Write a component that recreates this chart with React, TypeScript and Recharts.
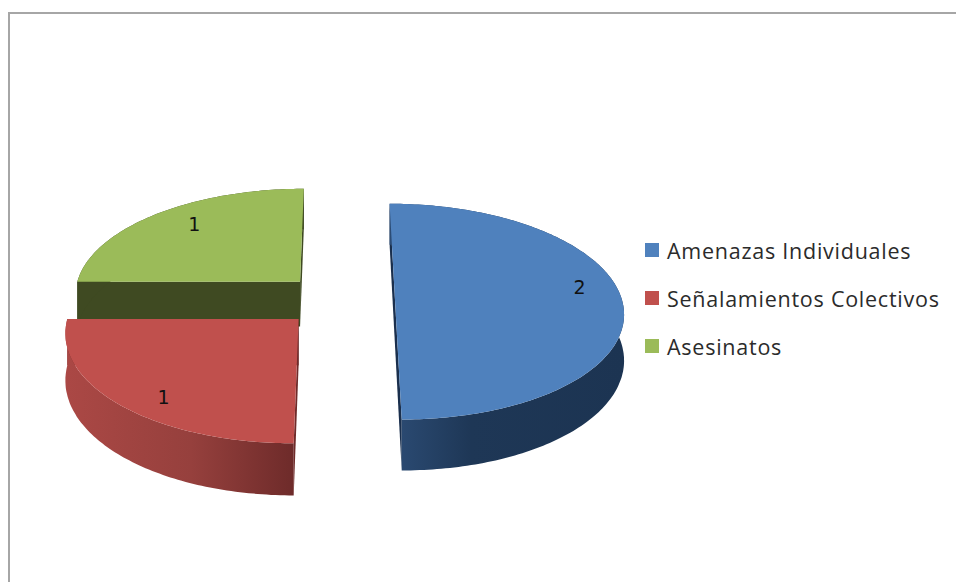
import { PieChart, Pie, Legend } from "recharts";

// ─── Data ─────────────────────────────────────────────────────────────────

// Painted back to front, so the legend reverses this order
const CATEGORIES = ["Asesinatos", "Señalamientos Colectivos", "Amenazas Individuales"];
const VALUES = [1, 1, 2];
const TOP_COLORS = ["#9bbb59", "#c0504d", "#4f81bd"];

const DATA = CATEGORIES.map((name, i) => ({ name, value: VALUES[i], fill: TOP_COLORS[i] }));

// ─── 3D projection ────────────────────────────────────────────────────────

const RADIUS = 227;
const EXPLODE = 56;
const THICKNESS = 45.5;
const VANISH_Y = -692; // horizon the disc recedes towards
const FORESHORTEN = 0.1075;

const WALL_FILL: Record<string, string> = {
  Asesinatos: "#3f4a22",
  "Señalamientos Colectivos": "url(#wallRed)",
  "Amenazas Individuales": "url(#wallBlue)",
};
const CUT_FILL: Record<string, string> = {
  Asesinatos: "#3f4a22",
  "Señalamientos Colectivos": "#6f2b2a",
  "Amenazas Individuales": "#1a2f4d",
};
const LABEL_NUDGE: Record<string, [number, number]> = {
  Asesinatos: [11, -3],
  "Señalamientos Colectivos": [7, 11],
  "Amenazas Individuales": [3, -13],
};

const RAD = Math.PI / 180;

function project(cx: number, cy: number, mid: number, angle: number, r: number, lift = 0) {
  const x = Math.cos(angle * RAD) * r + Math.cos(mid * RAD) * EXPLODE;
  const y = -Math.sin(angle * RAD) * r - Math.sin(mid * RAD) * EXPLODE;
  const s = 1 / (1 - (FORESHORTEN * y) / RADIUS);
  return { x: cx + x * s, y: VANISH_Y + (cy - VANISH_Y + lift) * s };
}

function toPath(points: { x: number; y: number }[]) {
  return points.map((p, i) => `${i ? "L" : "M"}${p.x.toFixed(1)} ${p.y.toFixed(1)}`).join(" ") + " Z";
}

// ─── Slice ────────────────────────────────────────────────────────────────

function Slice3D(props: any) {
  const { cx, cy, outerRadius, startAngle, endAngle, fill, name } = props;
  const from = Math.min(startAngle, endAngle);
  const to = Math.max(startAngle, endAngle);
  const mid = (from + to) / 2;

  const arc = (lift: number) => {
    const pts = [];
    for (let a = from; a <= to + 0.01; a += 1) pts.push(project(cx, cy, mid, a, outerRadius, lift));
    return pts;
  };
  const hub = project(cx, cy, mid, 0, 0);
  const hubLow = project(cx, cy, mid, 0, 0, THICKNESS);
  const top = arc(0);
  const low = arc(THICKNESS);
  const first = top[0];
  const last = top[top.length - 1];

  return (
    <g>
      <path d={toPath([hub, first, low[0], hubLow])} fill={CUT_FILL[name]} />
      <path d={toPath([hub, last, low[low.length - 1], hubLow])} fill={CUT_FILL[name]} />
      <path d={toPath([...top, ...[...low].reverse()])} fill={WALL_FILL[name]} />
      <path d={toPath([hub, ...top])} fill={fill} />
    </g>
  );
}

function SliceLabel(props: any) {
  const { cx, cy, midAngle, value, name } = props;
  const p = project(cx, cy, midAngle, midAngle, RADIUS * 0.8);
  const [dx, dy] = LABEL_NUDGE[name];
  return (
    <text
      x={p.x + dx}
      y={p.y + dy}
      textAnchor="middle"
      dominantBaseline="central"
      fontFamily="'DejaVu Sans', sans-serif"
      fontSize={19}
      fill="#111"
    >
      {value}
    </text>
  );
}

// ─── Legend ───────────────────────────────────────────────────────────────

function SideLegend({ payload }: any) {
  const items = [...(payload ?? [])].reverse();
  return (
    <div style={{ fontFamily: "'Open Sans', sans-serif", fontSize: 21.5, letterSpacing: 0.75, color: "#2b2b2b" }}>
      {items.map((item: any) => (
        <div key={item.value} style={{ display: "flex", alignItems: "center", height: 48, whiteSpace: "nowrap" }}>
          <span style={{ width: 14, height: 14, marginRight: 8, background: item.color }} />
          {item.value}
        </div>
      ))}
    </div>
  );
}

// ─── Chart ────────────────────────────────────────────────────────────────

export default function App() {
  return (
    <div style={{ position: "absolute", left: 0, top: 0, width: 956, height: 582, background: "#fff", overflow: "hidden" }}>
      <div style={{ position: "absolute", left: 8, top: 12, right: 0, bottom: 0, borderLeft: "2px solid #a6a6a6", borderTop: "2px solid #a6a6a6" }} />
      <PieChart width={956} height={582} margin={{ top: 0, right: 0, bottom: 0, left: 0 }}>
        <defs>
          <linearGradient id="wallRed" x1="0" y1="0" x2="1" y2="0">
            <stop offset="0%" stopColor="#ab4845" />
            <stop offset="55%" stopColor="#96403d" />
            <stop offset="100%" stopColor="#6e2b2a" />
          </linearGradient>
          <linearGradient id="wallBlue" x1="0" y1="0" x2="1" y2="0">
            <stop offset="0%" stopColor="#2c4c75" />
            <stop offset="35%" stopColor="#1e3756" />
            <stop offset="100%" stopColor="#1c3452" />
          </linearGradient>
        </defs>
        <Pie
          data={DATA}
          dataKey="value"
          nameKey="name"
          cx={339}
          cy={300}
          outerRadius={RADIUS}
          startAngle={90}
          endAngle={450}
          stroke="none"
          shape={Slice3D}
          label={SliceLabel}
          labelLine={false}
          isAnimationActive={false}
        />
        <Legend
          layout="vertical"
          align="right"
          verticalAlign="top"
          itemSorter={null}
          content={SideLegend}
          wrapperStyle={{ left: 645, top: 226, right: "auto", width: 311 }}
        />
      </PieChart>
    </div>
  );
}
